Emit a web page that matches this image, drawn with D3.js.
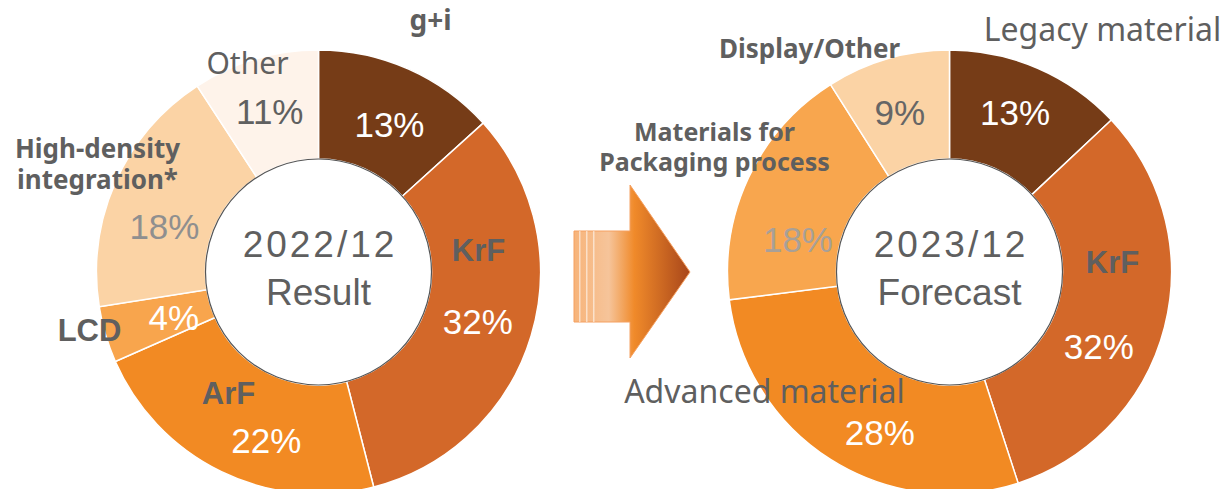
<!DOCTYPE html>
<html>
<head>
<meta charset="utf-8">
<script src="https://cdn.jsdelivr.net/npm/d3@7"></script>
<style>
  body { margin: 0; background: #fff; }
  svg { display: block; }
</style>
</head>
<body>
<div id="chart"></div>
<script>
// data
const leftCategories = ["g+i", "KrF", "ArF", "LCD", "High-density integration*", "Other"];
const leftShares = [13.3, 32.7, 22.4, 4.1, 18.3, 9.2];   // slice sizes as drawn
const leftLabels = [13, 32, 22, 4, 18, 11];               // printed percentages
const rightCategories = ["Legacy material", "KrF", "Advanced material", "Materials for Packaging process", "Display/Other"];
const rightShares = [13, 32, 28, 18, 9];
const rightLabels = [13, 32, 28, 18, 9];
const centerTitles = [["2022/12", "Result"], ["2023/12", "Forecast"]];

const width = 1226, height = 489;
const outerRadius = 222, innerRadius = 113, labelRadius = 167.5;
const grey = "#5f5f5f";

const svg = d3.select("#chart").append("svg")
    .attr("width", width)
    .attr("height", height)
    .style("font-family", "'Liberation Sans', Arial, sans-serif");

// layout for labels (offset from arc centroid / from donut center)
const leftStyle = {
  cx: 318.5, cy: 272,
  colors: ["#763c17", "#d36829", "#f28a23", "#f8a54d", "#fbd3a5", "#fef3ea"],
  pctColors: ["#fff", "#fff", "#fff", "#fff", "#8f8f8f", "#606060"],
  pctNudge: [[3, 6], [-1, 2], [21, 18], [16, -1], [-1, 23], [-1, 0]],
  names: [
    {lines: ["g+i"], at: [112, -252], size: 28, weight: "bold", font: "'Noto Sans'"},
    {lines: ["KrF"], at: [160, -22], size: 31, weight: "bold"},
    {lines: ["ArF"], at: [-90, 121], size: 31, weight: "bold"},
    {lines: ["LCD"], at: [-229, 58], size: 31, weight: "bold"},
    {lines: ["High-density", "integration*"], at: [-221, -123], size: 26, weight: "bold", font: "'Noto Sans'", lh: 31},
    {lines: ["Other"], at: [-71, -209], size: 30, weight: "normal", font: "'Noto Sans'"}
  ]
};
const rightStyle = {
  cx: 949.5, cy: 272,
  colors: ["#763c17", "#d36829", "#f28a23", "#f8a64e", "#fbd3a5"],
  pctColors: ["#fff", "#fff", "#fff", "#a8a098", "#666"],
  pctNudge: [[-1, -6], [-13, 33], [20, 19], [0, 39], [-3, 2]],
  names: [
    {lines: ["Legacy material"], at: [153, -242], size: 32, weight: "normal", font: "'Noto Sans'"},
    {lines: ["KrF"], at: [163, -10], size: 31, weight: "bold"},
    {lines: ["Advanced material"], at: [-185, 120], size: 32, weight: "normal", font: "'Noto Sans'"},
    {lines: ["Materials for", "Packaging process"], at: [-235, -140], size: 25, weight: "bold", font: "'Noto Sans'", lh: 30},
    {lines: ["Display/Other"], at: [-140, -223], size: 26, weight: "bold", font: "'Noto Sans'"}
  ]
};

const pie = d3.pie().sort(null).value(d => d);
const arc = d3.arc().innerRadius(innerRadius).outerRadius(outerRadius);
const arcLabel = d3.arc().innerRadius(labelRadius).outerRadius(labelRadius);

function drawDonut(shares, labels, st, title) {
  const arcs = pie(shares);
  const g = svg.append("g").attr("transform", `translate(${st.cx},${st.cy})`);

  g.append("g")
    .attr("stroke", "white")
    .attr("stroke-width", 1.5)
    .selectAll("path")
    .data(arcs)
    .join("path")
    .attr("fill", (d, i) => st.colors[i])
    .attr("d", arc);

  g.append("circle")
    .attr("r", innerRadius)
    .attr("fill", "white")
    .attr("stroke", "#555")
    .attr("stroke-width", 1.2);

  // percentages
  g.append("g")
    .attr("font-size", 35)
    .attr("text-anchor", "middle")
    .selectAll("text")
    .data(arcs)
    .join("text")
    .attr("x", (d, i) => arcLabel.centroid(d)[0] + st.pctNudge[i][0])
    .attr("y", (d, i) => arcLabel.centroid(d)[1] + st.pctNudge[i][1])
    .attr("dy", "0.35em")
    .attr("fill", (d, i) => st.pctColors[i])
    .text((d, i) => labels[i] + "%");

  // category names
  st.names.forEach(n => {
    const t = g.append("text")
      .attr("text-anchor", "middle")
      .attr("font-size", n.size)
      .attr("font-weight", n.weight)
      .attr("fill", grey)
      .style("font-family", n.font || null);
    n.lines.forEach((line, j) => {
      t.append("tspan")
        .attr("x", n.at[0])
        .attr("y", n.at[1] + j * (n.lh || 0))
        .attr("dy", "0.35em")
        .text(line);
    });
  });

  // centre title
  g.append("g")
    .attr("text-anchor", "middle")
    .attr("font-size", 37)
    .attr("fill", grey)
    .selectAll("text")
    .data(title)
    .join("text")
    .attr("x", (d, i) => i ? 0 : 1.5)
    .attr("y", (d, i) => -28 + i * 48)
    .attr("dy", "0.35em")
    .attr("letter-spacing", (d, i) => i ? 0 : 3)
    .text(d => d);
}

drawDonut(leftShares, leftLabels, leftStyle, centerTitles[0]);
drawDonut(rightShares, rightLabels, rightStyle, centerTitles[1]);

// arrow between the donuts
const defs = svg.append("defs");
const grad = defs.append("linearGradient")
    .attr("id", "arrowGrad")
    .attr("gradientUnits", "userSpaceOnUse")
    .attr("x1", 574).attr("x2", 690)
    .attr("y1", 0).attr("y2", 0);
grad.append("stop").attr("offset", 0).attr("stop-color", "#f7b47a");
grad.append("stop").attr("offset", 0.3).attr("stop-color", "#f6c49a");
grad.append("stop").attr("offset", 0.52).attr("stop-color", "#f08a2a");
grad.append("stop").attr("offset", 1).attr("stop-color", "#a8461a");

const ax = 574, shaftTop = 231, shaftBot = 322, headX = 630, headTop = 185, headBot = 358, tipX = 690, tipY = 272;
svg.append("path")
    .attr("d", `M${ax},${shaftTop}H${headX}V${headTop}L${tipX},${tipY}L${headX},${headBot}V${shaftBot}H${ax}Z`)
    .attr("fill", "url(#arrowGrad)")
    .attr("stroke", "#f5a060")
    .attr("stroke-width", 1);

svg.append("g")
    .selectAll("rect")
    .data([579, 586, 593])
    .join("rect")
    .attr("x", d => d)
    .attr("y", shaftTop)
    .attr("width", 1.5)
    .attr("height", shaftBot - shaftTop)
    .attr("fill", "white")
    .attr("opacity", 0.55);
</script>
</body>
</html>
